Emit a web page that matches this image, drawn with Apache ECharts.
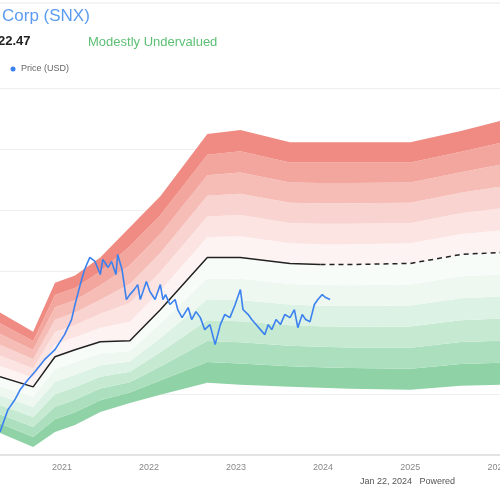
<!DOCTYPE html>
<html><head><meta charset="utf-8">
<script src="https://cdn.jsdelivr.net/npm/echarts@6/dist/echarts.min.js"></script>
<style>html,body{margin:0;padding:0;background:#fff}#c{width:500px;height:500px}</style>
</head><body><div id="c"></div>
<script>
const bandYears = [2020.29,2020.67,2020.92,2021.15,2021.44,2021.78,2022.13,2022.67,2023.05,2023.62,2023.97,2024.31,2025.0,2025.58,2026.03];
const gfValue   = [63.9,55.7,80.3,86.1,92.6,93.4,118.8,161.4,161.4,156.6,155.7,155.7,156.6,163.9,165.6];
const upperEdge = [116.4,100.8,140.9,146.7,161.4,186.1,211.5,262.3,265.6,255.7,255.7,255.7,255.7,264.8,273.0];
const lowerEdge = [18.0,6.6,18.9,24.6,35.2,42.6,49.2,59.0,57.4,55.7,54.9,54.1,53.3,56.6,57.4];
const forecastStartIndex = 10;
const priceYears = [2020.29,2020.38,2020.46,2020.52,2020.61,2020.69,2020.80,2020.92,2021.03,2021.11,2021.15,2021.21,2021.26,2021.32,2021.38,2021.44,2021.47,2021.53,2021.57,2021.62,2021.64,2021.69,2021.74,2021.78,2021.83,2021.87,2021.90,2021.97,2022.01,2022.07,2022.13,2022.16,2022.19,2022.24,2022.30,2022.33,2022.38,2022.45,2022.49,2022.54,2022.59,2022.64,2022.70,2022.76,2022.82,2022.87,2022.93,2022.99,2023.05,2023.08,2023.14,2023.18,2023.23,2023.28,2023.33,2023.37,2023.41,2023.46,2023.51,2023.56,2023.62,2023.67,2023.71,2023.76,2023.80,2023.85,2023.90,2023.94,2023.99,2024.03,2024.08];
const priceValues = [18.9,36.9,45.1,53.3,61.5,68.0,77.9,86.1,98.4,110.7,123.0,139.3,151.6,161.5,158.2,147.5,159.8,153.3,158.2,147.5,163.9,151.6,127.1,131.1,135.2,139.3,127.1,141.8,133.6,127.1,139.3,127.1,131.1,123.0,127.1,118.9,112.3,120.5,110.7,117.2,112.3,102.5,106.6,90.2,106.6,114.8,112.3,123.0,135.2,118.9,114.8,110.7,106.6,102.5,98.4,106.6,102.5,110.7,106.6,114.8,112.3,118.9,104.1,114.8,110.7,109.0,123.0,127.1,131.1,128.7,127.1];

function toTime(y){const yr=Math.floor(y);const a=Date.UTC(yr,0,1),b=Date.UTC(yr+1,0,1);return a+(y-yr)*(b-a);}
const bt = bandYears.map(toTime);
const greens=['#8ed2a6','#abdfbd','#c6e9d2','#dcf2e4','#eef8f1','#f8fcf9'];
const reds=['#fdf3f2','#fbe4e1','#f9d3cf','#f6bdb7','#f3a69e','#ef8b82'];
const series=[];
series.push({type:'line',stack:'b',symbol:'none',lineStyle:{width:0},data:bt.map((t,i)=>[t,lowerEdge[i]]),silent:true});
greens.forEach(c=>series.push({type:'line',stack:'b',symbol:'none',lineStyle:{width:0},areaStyle:{color:c,opacity:1},
    data:bt.map((t,i)=>[t,(gfValue[i]-lowerEdge[i])/greens.length]),silent:true}));
reds.forEach(c=>series.push({type:'line',stack:'b',symbol:'none',lineStyle:{width:0},areaStyle:{color:c,opacity:1},
    data:bt.map((t,i)=>[t,(upperEdge[i]-gfValue[i])/reds.length]),silent:true}));
series.push({type:'line',symbol:'none',lineStyle:{color:'#222',width:1.5},data:bt.slice(0,forecastStartIndex+1).map((t,i)=>[t,gfValue[i]]),z:5});
series.push({type:'line',symbol:'none',lineStyle:{color:'#222',width:1.5,type:[5,4]},data:bt.slice(forecastStartIndex).map((t,i)=>[t,gfValue[i+forecastStartIndex]]),z:5});
series.push({name:'Price (USD)',type:'line',symbol:'none',lineStyle:{color:'#3b82f0',width:1.6},data:priceYears.map((y,i)=>[toTime(y),priceValues[i]]),z:6});

const chart=echarts.init(document.getElementById('c'));
chart.setOption({
  animation:false,
  grid:{left:0,right:0,top:88,bottom:45,containLabel:false,outerBoundsMode:'none'},
  xAxis:{type:'time',min:toTime(2020.29),max:toTime(2026.03),
    minInterval:365*86400000,maxInterval:366*86400000,
    axisLine:{show:true,lineStyle:{color:'#e3e3e3',width:2}},axisTick:{show:false},splitLine:{show:false},
    axisLabel:{color:'#888',fontSize:9,margin:8,formatter:'{yyyy}'}},
  yAxis:{type:'value',min:0,max:300,interval:50,axisLabel:{show:false},axisLine:{show:false},axisTick:{show:false},
    splitLine:{lineStyle:{color:'#eeeeee'}}},
  series:series,
  graphic:[
    {type:'line',shape:{x1:0,y1:3,x2:500,y2:3},style:{stroke:'#e8e8e8',lineWidth:1}},
    {type:'text',left:2,top:8,style:{text:'Corp (SNX)',fill:'#5b9cf0',font:'17px "Liberation Sans", Arial'}},
    {type:'text',left:-2,top:35,style:{text:'22.47',fill:'#222',font:'bold 13px "Liberation Sans", Arial'}},
    {type:'text',left:88,top:36,style:{text:'Modestly Undervalued',fill:'#5cbf74',font:'13px "Liberation Sans", Arial'}},
    {type:'circle',shape:{cx:13,cy:69,r:2.5},style:{fill:'#3b82f0'}},
    {type:'text',left:21,top:64,style:{text:'Price (USD)',fill:'#666',font:'9px "Liberation Sans", Arial'}},
    {type:'text',left:360,top:477,style:{text:'Jan 22, 2024   Powered',fill:'#555',font:'9px "Liberation Sans", Arial'}}
  ]
});
</script></body></html>
